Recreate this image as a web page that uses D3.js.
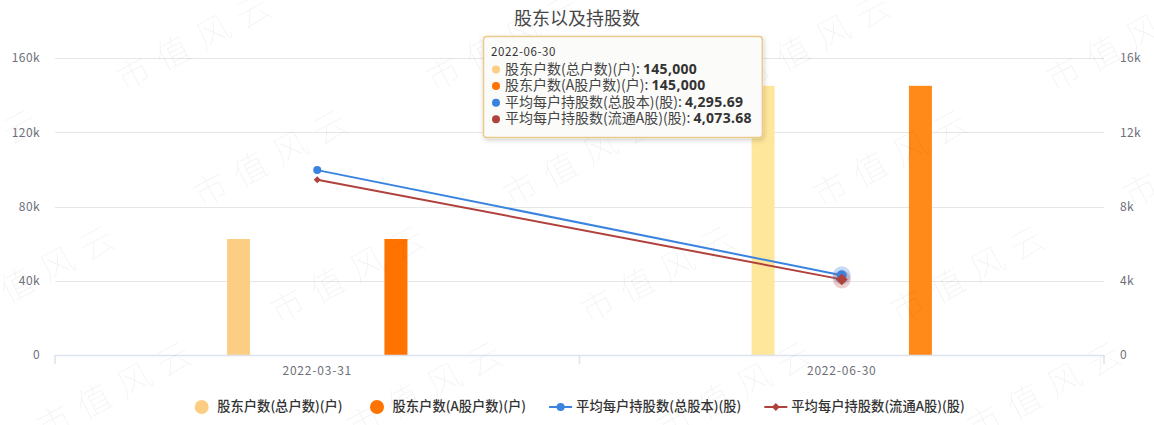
<!DOCTYPE html>
<html><head><meta charset="utf-8">
<script src="https://cdn.jsdelivr.net/npm/d3@7"></script>
<style>
body{margin:0;background:#fff}
svg{display:block}
text{font-family:"Noto Sans CJK SC","Noto Sans",sans-serif}
</style>
</head><body>
<svg id="c" width="1154" height="425"></svg>
<script>
// ---- data ----
const title = "股东以及持股数";
const categories = ["2022-03-31", "2022-06-30"];
const seriesNames = ["股东户数(总户数)(户)", "股东户数(A股户数)(户)", "平均每户持股数(总股本)(股)", "平均每户持股数(流通A股)(股)"];
const holdersTotal = [62500, 145000];
const holdersA = [62500, 145000];
const avgTotal = [9960, 4295.69];
const avgA = [9445, 4073.68];
const leftTicks = [0, 40000, 80000, 120000, 160000];
const rightTicks = [0, 4000, 8000, 12000, 16000];
const hoverIndex = 1;
const watermarkText = "市值风云";

// ---- styles ----
const colors = ["#fbce83", "#ff7300", "#3a83df", "#b0423d"];
const hoverColors = ["#fee69a", "#ff8a1a"];

const svg = d3.select("#c");
const W = 1154, H = 425;
const L = 55, R = 1104, T = 58, B = 355;

const x0 = d3.scaleBand().domain(categories).range([L, R]);
const bw = x0.bandwidth();
const x1 = d3.scalePoint().domain([0, 1]).range([bw * 0.35, bw * 0.65]);
const yL = d3.scaleLinear().domain([0, 160000]).range([B, T]);
const yR = d3.scaleLinear().domain([0, 16000]).range([B, T]);
const kfmt = v => v === 0 ? "0" : (v / 1000) + "k";

// title
svg.append("text").attr("x", 577).attr("y", 20).attr("text-anchor", "middle")
  .attr("dominant-baseline", "middle").attr("font-size", 18).attr("fill", "#464646").text(title);

// grid
const g = svg.append("g");
g.selectAll("line.grid").data(leftTicks.filter(d => d > 0)).join("line")
  .attr("x1", L).attr("x2", R).attr("y1", d => Math.round(yL(d)) + 0.5).attr("y2", d => Math.round(yL(d)) + 0.5)
  .attr("stroke", "#e6e6e6").attr("stroke-width", 1.2);

// axis labels
const axL = d3.axisLeft(yL).tickValues(leftTicks).tickFormat(kfmt).tickSize(0).tickPadding(15);
const gl = svg.append("g").attr("transform", `translate(${L},0)`).call(axL);
gl.select(".domain").remove();
gl.selectAll("text").attr("font-size", 12).attr("fill", "#6e7079").attr("font-family", "'Noto Sans',sans-serif").attr("letter-spacing", 0.4);

const axR = d3.axisRight(yR).tickValues(rightTicks).tickFormat(kfmt).tickSize(0).tickPadding(16);
const gr = svg.append("g").attr("transform", `translate(${R},0)`).call(axR);
gr.select(".domain").remove();
gr.selectAll("text").attr("font-size", 12).attr("fill", "#6e7079").attr("font-family", "'Noto Sans',sans-serif").attr("letter-spacing", 0.4);

// bars
const barW = 23;
const barSeries = [holdersTotal, holdersA];
barSeries.forEach((vals, si) => {
  svg.append("g").selectAll("rect").data(vals).join("rect")
    .attr("x", (d, i) => x0(categories[i]) + x1(si) - barW / 2)
    .attr("width", barW)
    .attr("y", d => yL(d))
    .attr("height", d => B - yL(d))
    .attr("fill", (d, i) => i === hoverIndex ? hoverColors[si] : colors[si]);
});

// bottom axis
const ax = svg.append("g");
ax.append("line").attr("x1", L).attr("x2", R).attr("y1", B + 0.5).attr("y2", B + 0.5).attr("stroke", "#dde2f1").attr("stroke-width", 1.5);
const bounds = categories.map(c => x0(c)).concat([R]);
ax.selectAll("line.tk").data(bounds).join("line").attr("class", "tk")
  .attr("x1", d => d).attr("x2", d => d).attr("y1", B).attr("y2", B + 9).attr("stroke", "#dde2f1").attr("stroke-width", 1.5);
ax.selectAll("text").data(categories).join("text")
  .attr("x", d => x0(d) + bw / 2).attr("y", 372).attr("text-anchor", "middle").attr("dominant-baseline", "middle")
  .attr("font-size", 12).attr("fill", "#6e7079").attr("font-family", "'Noto Sans',sans-serif").attr("letter-spacing", 0.8).text(d => d);

// lines
const cx = c => x0(c) + bw / 2;
const lineSeries = [avgTotal, avgA];
const diamond = (w, h) => `M0,${-h}L${w},0L0,${h}L${-w},0Z`;
lineSeries.forEach((vals, si) => {
  const col = colors[si + 2];
  const line = d3.line().x((d, i) => cx(categories[i])).y(d => yR(d));
  svg.append("path").datum(vals).attr("d", line).attr("fill", "none").attr("stroke", col).attr("stroke-width", 2);
});
const mg = svg.append("g");
mg.append("circle").attr("cx", cx(categories[hoverIndex])).attr("cy", yR(avgTotal[hoverIndex])).attr("r", 9).attr("fill", colors[2]).attr("opacity", 0.3);
mg.append("circle").attr("cx", cx(categories[hoverIndex])).attr("cy", yR(avgA[hoverIndex])).attr("r", 9).attr("fill", colors[3]).attr("opacity", 0.25);
avgTotal.forEach((v, i) => {
  mg.append("circle").attr("cx", cx(categories[i])).attr("cy", yR(v)).attr("r", i === hoverIndex ? 5 : 4).attr("fill", colors[2]);
});
avgA.forEach((v, i) => {
  const s = i === hoverIndex ? 1.7 : 1;
  mg.append("path").attr("d", diamond(3.5 * s, 3.5 * s)).attr("transform", `translate(${cx(categories[i])},${yR(v)})`).attr("fill", colors[3]);
});

// legend
const lg = svg.append("g");
let lx = 0;
seriesNames.forEach((name, i) => {
  const it = lg.append("g");
  if (i < 2) {
    it.append("circle").attr("cx", 12.5).attr("cy", 0).attr("r", 7).attr("fill", colors[i]);
  } else {
    it.append("line").attr("x1", 1).attr("x2", 24).attr("y1", 0).attr("y2", 0).attr("stroke", colors[i]).attr("stroke-width", 2);
    if (i === 2) it.append("circle").attr("cx", 12.5).attr("cy", 0).attr("r", 4).attr("fill", colors[i]);
    else it.append("path").attr("d", diamond(4, 4)).attr("transform", "translate(12.5,0)").attr("fill", colors[i]);
  }
  const t = it.append("text").attr("x", 28).attr("y", 0).attr("dominant-baseline", "middle")
    .attr("font-size", 13.3).attr("font-weight", 500).attr("fill", "#333").text(name);
  const w = 28 + t.node().getComputedTextLength();
  it.attr("transform", `translate(${lx},407)`);
  lx += w + 22;
});
const totalW = lx - 22;
lg.attr("transform", `translate(${577 - totalW / 2},0)`);

// watermark
const wm = svg.append("g").attr("pointer-events", "none");
for (let r = -1; r < 5; r++) {
  for (let c = -2; c < 5; c++) {
    const px = 197 + c * 310 + r * 77;
    const py = 38 + r * 116;
    if (px < -120 || px > W + 120 || py > H + 60) continue;
    wm.append("text").attr("x", 0).attr("y", 0).attr("text-anchor", "middle").attr("dominant-baseline", "central")
      .attr("transform", `translate(${px},${py}) rotate(-28)`)
      .attr("font-size", 34).attr("font-weight", 100).attr("fill", "#000").attr("opacity", 0.045)
      .attr("letter-spacing", 11).text(watermarkText);
  }
}

// tooltip
const defs = svg.append("defs");
const f = defs.append("filter").attr("id", "sh").attr("x", "-10%").attr("y", "-10%").attr("width", "120%").attr("height", "130%");
f.append("feDropShadow").attr("dx", 1).attr("dy", 2).attr("stdDeviation", 2.5).attr("flood-color", "#000").attr("flood-opacity", 0.18);
const tt = svg.append("g").attr("transform", "translate(483,36)");
const box = tt.append("rect").attr("x", 0.5).attr("y", 0.5).attr("rx", 3).attr("height", 101)
  .attr("fill", "#fbfbfa").attr("stroke", "#ecca8c").attr("stroke-width", 1.5).attr("filter", "url(#sh)");
tt.append("text").attr("x", 8).attr("y", 17).attr("dominant-baseline", "middle").attr("font-size", 11.5)
  .attr("fill", "#333").attr("font-family", "'Noto Sans',sans-serif").attr("letter-spacing", 0.6).text(categories[hoverIndex]);
const allVals = [holdersTotal, holdersA, avgTotal, avgA];
const fmt0 = d3.format(",.0f"), fmt2 = d3.format(",.2f");
let maxW = 0;
seriesNames.forEach((name, i) => {
  const y = 33.5 + i * 16.6;
  tt.append("circle").attr("cx", 13).attr("cy", y).attr("r", 4).attr("fill", colors[i]);
  const t = tt.append("text").attr("x", 22).attr("y", y).attr("dominant-baseline", "middle").attr("font-size", 14).attr("fill", "#444");
  t.append("tspan").text(name + ": ");
  const v = allVals[i][hoverIndex];
  t.append("tspan").attr("font-weight", "bold").attr("fill", "#333").attr("font-size", 14).attr("font-family", "'Noto Sans',sans-serif")
    .attr("letter-spacing", 0.3).text(i < 2 ? fmt0(v) : fmt2(v));
  maxW = Math.max(maxW, 22 + t.node().getComputedTextLength());
});
box.attr("width", maxW + 10);
</script>
</body></html>
